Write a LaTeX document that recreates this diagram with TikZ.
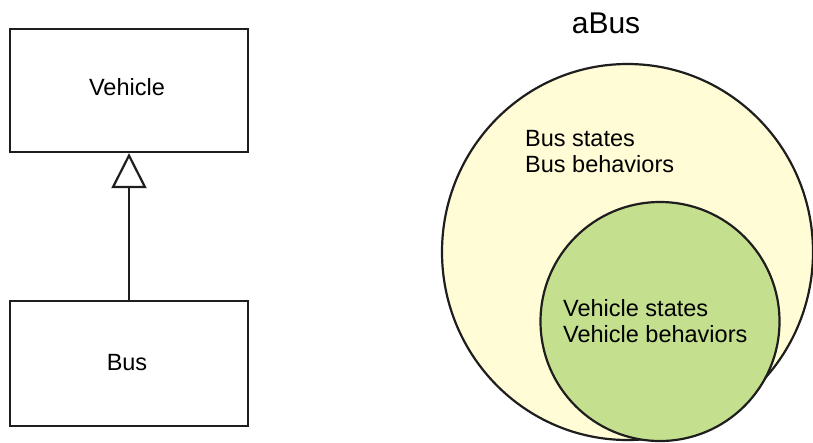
\documentclass[tikz,border=0pt]{standalone}
\usepackage{fontspec}
\setmainfont{Liberation Sans}
\usetikzlibrary{arrows.meta,shapes.geometric}

\definecolor{busfill}{RGB}{255,252,214}
\definecolor{vehfill}{RGB}{196,224,143}
\definecolor{inkline}{RGB}{30,30,30}

\tikzset{
  classbox/.style={draw=inkline, line width=2.2pt, minimum width=238pt, inner sep=0pt},
  lbl/.style={inner sep=0pt, anchor=base, font=\fontsize{23.5}{26.7}\selectfont},
  blocktext/.style={inner sep=0pt, anchor=base west, align=left, font=\fontsize{23.5}{26.7}\selectfont},
  inherits/.style={draw=inkline, line width=2.2pt,
    -{Triangle[open, length=35pt, width=35pt, fill=white, line width=2.2pt]}},
  blob/.style={draw=inkline, line width=2.2pt, inner sep=0pt}
}

\begin{document}
\begin{tikzpicture}[x=1pt, y=-1pt]
  \useasboundingbox (0,0) rectangle (813,442);

  % class diagram
  \node[classbox, minimum height=123pt] (vehicle) at (129,90.5) {};
  \node[lbl] (vehiclename) at (127,95) {Vehicle};
  \node[classbox, minimum height=125pt] (bus) at (129,363.5) {};
  \node[lbl] (busname) at (127,370) {Bus};
  \draw[inherits] (bus.north) -- (vehicle.south);

  % object layout
  \node[lbl, font=\fontsize{30}{34}\selectfont] (objname) at (606,33) {aBus};
  \node[blob, ellipse, fill=busfill, minimum width=371pt, minimum height=376pt] (outer) at (627.5,252) {};
  \node[blob, circle, fill=vehfill, minimum size=239pt] (inner) at (660,321.5) {};
  % base anchor of a two-line node sits on its last line
  \node[blocktext] (busparts) at (525,172.7) {Bus states\\Bus behaviors};
  \node[blocktext] (vehparts) at (563,342.7) {Vehicle states\\Vehicle behaviors};
\end{tikzpicture}
\end{document}
